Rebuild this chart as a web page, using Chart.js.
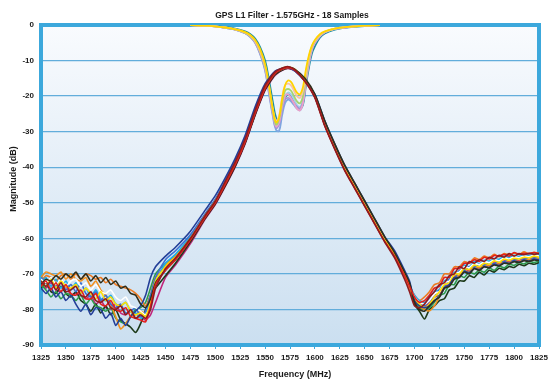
<!DOCTYPE html>
<html>
<head>
<meta charset="utf-8">
<script src="https://cdn.jsdelivr.net/npm/chart.js@4.4.0/dist/chart.umd.min.js"></script>
<style>
  html, body { margin: 0; padding: 0; background: #fff; }
  #wrap { width: 548px; height: 379px; }
</style>
</head>
<body>
<div id="wrap"><canvas id="filterChart" width="548" height="379"></canvas></div>
<script>
// frequency grids (MHz)
const freqLow = [1325, 1330, 1335, 1340, 1345, 1350, 1355, 1360, 1365, 1370, 1375, 1380,
  1385, 1390, 1395, 1400, 1405, 1410, 1415, 1420, 1425, 1430, 1435, 1440];
const freqMid = [1450, 1460, 1475, 1490, 1500, 1510, 1520, 1530, 1540, 1550, 1560, 1570,
  1575, 1580, 1590, 1600, 1610, 1620, 1630, 1640, 1650, 1660, 1670, 1680, 1690, 1695];
const freqHigh = [1700, 1705, 1710, 1715, 1720, 1725, 1730, 1735, 1740, 1745, 1750, 1755,
  1760, 1765, 1770, 1775, 1780, 1785, 1790, 1795, 1800, 1805, 1810, 1815, 1820, 1825];
const freqS21 = freqLow.concat(freqMid, freqHigh);

const freqS11 = [1475, 1490, 1500, 1510, 1520, 1530, 1535, 1540, 1545, 1550, 1554, 1558,
  1561, 1564, 1567, 1570, 1573, 1576, 1579, 1582, 1585, 1588, 1591, 1594, 1597, 1600,
  1605, 1610, 1620, 1630, 1640, 1650, 1665];

// transmission (dB), one row per sample: low stopband | passband | high stopband
const s21Olive = [-73, -71.5, -72, -70.5, -71.5, -70, -71, -69.5, -71.5, -70, -72, -70.5, -72.5, -71, -73, -72, -74, -73.5, -75.5, -76, -78.5, -79.5, -77, -72.5,
  -69, -66, -60.5, -54, -50, -45, -39.5, -33, -25, -18, -13.8, -12.1, -12, -12.5, -15, -19.5, -27, -33.5, -39.5, -44.5, -49.5, -54.5, -59.5, -64, -69.5, -72.5,
  -78, -80, -80.5, -79, -77.5, -76.5, -74, -73.5, -71.5, -71, -69.5, -70, -68.5, -69, -68, -68.3, -67.5, -67.8, -67, -67.2, -66.6, -66.8, -66.3, -66.5, -66.1, -66.3];
const s21DarkRed = [-72, -73.5, -72, -74.5, -72.5, -75, -74.5, -73.5, -76, -76.5, -75, -77.5, -78, -77, -79.5, -80, -79, -81.5, -80, -82.5, -81.5, -82.5, -80, -74,
  -68.5, -65.5, -60, -53.5, -49.5, -44, -38.5, -32, -24, -17, -13.2, -11.8, -11.8, -12.6, -15.8, -20.5, -28.5, -35, -41, -46, -51, -56, -61, -65.5, -71.5, -75,
  -79, -79.5, -78.5, -76.5, -75, -73, -72.5, -70.5, -70, -68, -68.5, -66.5, -67, -66, -66.5, -65.3, -65.8, -64.8, -65.3, -64.3, -65, -64.3, -64.6, -64.2, -64.5, -64.3];
const s21Red = [-73.5, -72, -74.5, -72.5, -75, -73, -75.5, -76, -74.5, -77, -77, -75.5, -78.5, -79, -77.5, -80, -80.5, -79.5, -82, -82.5, -83, -83.5, -79, -73,
  -69, -66, -60.5, -54, -50, -44.8, -39.3, -32.8, -24.8, -17.8, -13.6, -12.1, -12.1, -12.8, -15.8, -20.3, -28.3, -34.8, -40.8, -45.8, -50.8, -55.8, -60.8, -65, -70.5, -73.5,
  -76.5, -78, -77.5, -76, -74, -73.5, -71, -71, -68.5, -68.5, -67, -67, -66, -66.5, -65.3, -65.8, -64.8, -65, -64.5, -65, -64, -64.5, -64.2, -64.3, -64, -64.3];
const s21Navy = [-74, -75.5, -74, -76.5, -75, -77.5, -76, -78.5, -80.5, -78.5, -81.5, -79.5, -80, -82.5, -81, -84.5, -82.5, -84.5, -82, -80.5, -79, -76, -71, -68,
  -65, -62.5, -58, -52, -48, -43, -37.5, -31, -23, -16.5, -13, -12, -12.2, -13, -15.8, -19.5, -27, -33.5, -39.5, -44.5, -49.5, -54.5, -59.5, -63.5, -69, -72,
  -77.5, -79, -79.5, -79, -77.5, -76.5, -74, -73, -71, -71, -69.3, -69.6, -68.5, -68.8, -68, -68.2, -67.3, -67.6, -66.8, -67, -66.4, -66.7, -66.1, -66.4, -65.9, -66.1];
const s21Blue = [-71, -72.5, -71, -73.5, -72, -74.5, -73, -75, -72.5, -75.5, -76.5, -75, -77.5, -76, -78.5, -79.5, -78.5, -81, -80.5, -79.5, -82, -80.5, -76, -71,
  -66, -63.5, -59, -53, -49, -43.8, -38.3, -31.8, -23.8, -17, -13.3, -12, -12.1, -12.8, -15.7, -20.1, -28, -34.5, -40.5, -45.5, -50.5, -55.5, -60.5, -64.5, -70, -73,
  -76.5, -78, -79, -77.5, -76.5, -74.5, -73.5, -71.5, -71.5, -69, -69, -68, -68.2, -67.3, -67.6, -66.8, -67.2, -66.3, -66.6, -65.8, -66.2, -65.6, -65.9, -65.3, -65.6, -65.3];
const s21Cyan = [-72.5, -71, -73.5, -71.5, -74, -72, -74.5, -72.5, -75.5, -74, -76.5, -74.5, -77, -77.5, -76, -78.5, -79, -78, -80.5, -81, -82.5, -81.5, -77, -72.5,
  -67, -64.5, -59.5, -53.3, -49.3, -44.2, -38.7, -32.2, -24.2, -17.3, -13.4, -12, -12, -12.7, -15.6, -20, -28, -34.5, -40.5, -45.5, -50.5, -55.5, -60.5, -64.5, -70.2, -73.3,
  -76, -77.5, -78, -77, -75, -74.5, -72, -71.5, -69.5, -69.5, -67.5, -68, -66.5, -67.2, -66.2, -66.4, -65.7, -65.9, -65, -65.4, -64.8, -65.1, -64.5, -64.8, -64.4, -64.6];
const s21Orange = [-71, -69.5, -70, -70.5, -69.5, -71.5, -70, -71.5, -72, -71, -73.5, -72, -74.5, -76, -78.5, -82, -85.5, -84, -82, -81.5, -80.5, -81, -77, -72,
  -67.5, -65, -59.8, -53.4, -49.4, -44.3, -38.8, -32.3, -24.3, -17.4, -13.5, -12.1, -12.1, -12.7, -15.6, -20.1, -28.1, -34.6, -40.6, -45.6, -50.6, -55.6, -60.6, -64.8, -70.5, -74,
  -77, -79, -80, -80.4, -79, -76.5, -74, -73, -70.5, -70.5, -69, -69.5, -68, -68.5, -67.5, -67.8, -67, -67.3, -66.5, -66.8, -66.2, -66.5, -65.8, -66, -65.6, -65.8];
const s21Amber = [-72, -70.5, -71, -72, -70.5, -70, -71.5, -70, -71.5, -70, -70.5, -71.5, -71, -72.5, -71.5, -73, -73.5, -74, -74.5, -75.5, -77, -79, -76, -71,
  -68, -65.5, -60, -53.6, -49.6, -44.5, -39, -32.5, -24.5, -17.5, -13.5, -12, -12, -12.6, -15.5, -20, -28, -34.5, -40.5, -45.5, -50.5, -55.5, -60.5, -64.6, -70.3, -73.5,
  -76, -77.5, -76.5, -75, -73, -72.5, -70, -70, -68, -68, -66.5, -67, -65.5, -66, -65, -65.5, -64.5, -65.2, -64.3, -64.6, -64.2, -64.5, -63.8, -64.4, -63.9, -64.2];
const s21Yellow = [-72, -73.5, -71.5, -74, -72, -73.5, -74, -73, -75.5, -74, -75.5, -77, -75, -77.5, -76.5, -78.5, -79, -78, -80.5, -81.5, -81, -82, -78, -72,
  -68, -65.3, -60, -53.5, -49.5, -44.4, -38.9, -32.4, -24.4, -17.4, -13.4, -11.9, -11.9, -12.5, -15.4, -19.9, -27.9, -34.4, -40.4, -45.4, -50.4, -55.4, -60.4, -64.4, -70, -73,
  -77, -78.5, -79.5, -78.5, -76.5, -75, -73, -72.5, -70, -70, -68.5, -68.8, -67.5, -68, -67, -67.3, -66.3, -66.8, -65.8, -66.2, -65.6, -65.8, -65.3, -65.5, -65, -65.3];
const s21Green = [-73, -74.5, -76.5, -75, -77, -75.5, -76, -77.5, -76, -78.5, -77, -79, -79.5, -80.5, -79.5, -82.5, -83.5, -84, -82, -80, -79.5, -78, -74, -70,
  -67, -64.8, -59.8, -53.4, -49.4, -44.3, -38.8, -32.3, -24.3, -17.4, -13.5, -12.1, -12.1, -12.7, -15.6, -20.1, -28.1, -34.6, -40.6, -45.6, -50.6, -55.6, -60.6, -64.7, -70.3, -73.6,
  -77.5, -79.5, -80, -79.5, -78, -76, -75.5, -73, -73, -70.5, -71, -69.5, -70, -69, -69.5, -68.3, -69, -67.8, -68.3, -67.3, -67.6, -66.8, -67.2, -66.5, -66.8, -66.4];
const s21DarkGreen = [-74, -72.5, -75, -75.5, -73.5, -75.5, -76.5, -75, -77.5, -78.5, -80.5, -78.5, -81, -79, -81.5, -80, -83, -84, -85, -86.5, -84, -80, -76, -74,
  -70.5, -67, -61, -54.3, -50.3, -45.2, -39.7, -33.2, -25.2, -18.2, -14, -12.3, -12.2, -12.7, -15.3, -19.7, -27.6, -34, -40, -45, -50, -55, -60, -64.2, -69.8, -73,
  -78.5, -80.5, -82.7, -80, -79, -77.5, -77, -74.5, -74, -72, -72, -70.5, -71, -69.5, -70.3, -69, -69.5, -68.4, -68.8, -67.9, -68.2, -67.3, -67.7, -67, -67.3, -66.8];
const s21White = [-71.5, -72.5, -71, -73, -71.5, -73.5, -72, -71.5, -73.5, -72.5, -74.5, -73, -75, -75.5, -74.5, -76.5, -77.5, -76.5, -79, -79.5, -80.5, -81.5, -79, -73.5,
  -68.5, -65.8, -60.3, -53.8, -49.8, -44.6, -39.1, -32.6, -24.6, -17.6, -13.6, -12.1, -12, -12.6, -15.5, -20, -28, -34.5, -40.5, -45.5, -50.5, -55.5, -60.5, -64.5, -70.2, -73.3,
  -76.5, -78, -78.5, -77.5, -75.5, -75, -72.5, -72, -70, -69.5, -68, -68.3, -67, -67.4, -66.5, -66.8, -66, -66.3, -65.5, -65.8, -65.2, -65.5, -65, -65.2, -64.8, -65];
const s21Magenta = [-72.5, -74, -72.5, -74.5, -75, -73.5, -76, -75.5, -76, -77, -76, -78.5, -77.5, -79.5, -80, -78.5, -81, -81.5, -80.5, -82.5, -82, -83, -81.5, -78,
  -71, -67.5, -61.5, -54.5, -50.5, -45.4, -39.9, -33.4, -25.4, -18.4, -14.2, -12.4, -12.3, -12.8, -15.6, -20.2, -28.2, -34.7, -40.7, -45.7, -50.7, -55.7, -60.7, -64.9, -70.6, -74,
  -77.5, -79, -79.5, -78, -76.5, -76, -73.5, -73, -70.5, -70.5, -68.5, -69.2, -67.8, -68.3, -67.2, -67.7, -66.7, -67.2, -66.3, -66.6, -66, -66.3, -65.6, -66, -65.4, -65.7];

// return loss (dB)
const s11Yellow = [0, -0.2, -0.4, -0.7, -1.2, -2.0, -2.8, -4.2, -6.8, -11, -17, -24, -27.4, -26, -21, -17, -15.6, -16, -17.5, -19, -19.5, -17.5, -12.5, -8.5, -5.8, -4.2, -2.6, -1.8, -1, -0.6, -0.4, -0.2, 0];
const s11LightBlue = [0, -0.2, -0.4, -0.8, -1.3, -2.3, -3.2, -4.8, -7.8, -12, -18, -24.5, -27.5, -27, -23, -20, -19, -19.5, -21, -22.5, -23, -21, -15, -10, -6.5, -4.8, -3, -2, -1.1, -0.7, -0.4, -0.2, 0];
const s11Teal = [0, -0.1, -0.3, -0.6, -1.0, -1.8, -2.5, -3.8, -6.2, -10, -15.5, -22, -26, -27, -24, -20.5, -19.5, -20, -21.5, -23, -23.5, -22.5, -17, -12, -8, -6, -3.6, -2.4, -1.3, -0.8, -0.5, -0.3, 0];
const s11Peach = [0, -0.2, -0.4, -0.7, -1.2, -2.1, -3, -4.5, -7.3, -11.5, -17.5, -24, -27, -25.5, -20.5, -17, -16.5, -17, -18.5, -20, -20.5, -18.5, -13.5, -9, -6, -4.4, -2.8, -1.9, -1, -0.6, -0.4, -0.2, 0];
const s11Lime = [0, -0.2, -0.4, -0.7, -1.2, -2.2, -3.1, -4.6, -7.5, -11.8, -18, -24.5, -28, -26.5, -22, -18.5, -18, -18.5, -20, -21.5, -22, -20, -14.5, -9.5, -6.2, -4.6, -2.9, -1.9, -1, -0.6, -0.4, -0.2, 0];
const s11Purple = [0, -0.2, -0.4, -0.8, -1.3, -2.3, -3.3, -4.9, -8, -12.5, -19, -25.5, -29, -28, -24, -21, -20.5, -21, -22, -23, -23.5, -21.5, -15.5, -10.5, -6.8, -5, -3.1, -2, -1.1, -0.7, -0.4, -0.2, 0];
const s11Blue = [0, -0.2, -0.4, -0.8, -1.3, -2.3, -3.3, -5, -8.2, -12.8, -19.5, -26, -29.5, -29.8, -25.5, -22, -21, -21.5, -22.5, -23.5, -24, -22, -16, -11, -7, -5.1, -3.2, -2.1, -1.1, -0.7, -0.4, -0.2, 0];
const s11Pink = [0, -0.2, -0.4, -0.7, -1.2, -2.2, -3.1, -4.7, -7.6, -12, -18.5, -25, -28.5, -27.5, -23, -20, -19.5, -20.5, -22, -23.5, -24, -22, -16, -10.8, -6.9, -5, -3.1, -2, -1.1, -0.7, -0.4, -0.2, 0];

const xTicks = [1325, 1825, 25];
const yTicks = [-90, 0, 10];

const s21Sets = [
  [s21DarkRed, "#8e1b1f"], [s21Red, "#e3201c"], [s21Olive, "#2f2f1c"], [s21Navy, "#233f98"],
  [s21Yellow, "#ffe100"], [s21White, "#ffffff"], [s21Blue, "#3a6fd2"], [s21Cyan, "#1eaee8"],
  [s21Orange, "#f3901d"], [s21Amber, "#ee7a22"], [s21Green, "#2e9b4c"], [s21DarkGreen, "#1d3a1a"],
  [s21Magenta, "#c1267c"],
];
const s11Sets = [
  [s11Yellow, "#ffd400"], [s11Peach, "#f8c3a2"], [s11Lime, "#a6d470"], [s11Pink, "#eba0c8"],
  [s11Purple, "#a592d4"], [s11Blue, "#7ea6e0"], [s11LightBlue, "#a3d0ea"], [s11Teal, "#1b8e9e"],
];

const toPoints = (xs, ys) => ys.map((y, i) => ({ x: xs[i], y }));

const datasets = [
  ...s21Sets.map(([vals, color]) => ({
    data: toPoints(freqS21, vals), borderColor: color, borderWidth: 1.6, tension: 0.2,
  })),
  ...s11Sets.map(([vals, color]) => ({
    data: toPoints(freqS11, vals), borderColor: color, borderWidth: 1.8, tension: 0.4,
  })),
];

const font = { family: '"Liberation Sans", Arial, sans-serif', weight: "bold", size: 8 };
const blue = "#3ca8dc";

const frame = {
  id: "frame",
  beforeDraw(chart) {
    const { ctx, chartArea: a } = chart;
    const g = ctx.createLinearGradient(0, a.top, 0, a.bottom);
    g.addColorStop(0, "#f9fbfe");
    g.addColorStop(1, "#cbdff0");
    ctx.save();
    ctx.fillStyle = g;
    ctx.fillRect(a.left, a.top, a.right - a.left, a.bottom - a.top);
    ctx.restore();
  },
  beforeDatasetsDraw(chart) {
    const { ctx, chartArea: a } = chart;
    ctx.save();
    ctx.strokeStyle = blue;
    ctx.lineWidth = 4;
    ctx.strokeRect(a.left, a.top, a.right - a.left, a.bottom - a.top);
    ctx.restore();
  },
  afterDraw(chart) {
    const { ctx, chartArea: a } = chart;
    const mid = (a.left + a.right) / 2;
    ctx.save();
    ctx.fillStyle = "#1a1a1a";
    ctx.textAlign = "center";
    ctx.font = 'bold 8.5px "Liberation Sans", Arial, sans-serif';
    ctx.fillText("GPS L1 Filter - 1.575GHz - 18 Samples", mid + 2, 18);
    ctx.font = 'bold 9px "Liberation Sans", Arial, sans-serif';
    ctx.fillText("Frequency (MHz)", mid + 5, 377);
    ctx.translate(16, 179);
    ctx.rotate(-Math.PI / 2);
    ctx.fillText("Magnitude (dB)", 0, 0);
    ctx.restore();
  },
};

new Chart(document.getElementById("filterChart"), {
  type: "line",
  data: { datasets },
  options: {
    responsive: false,
    animation: false,
    events: [],
    layout: { padding: { top: 25, right: 9, left: 0, bottom: 0 } },
    elements: { point: { radius: 0 } },
    scales: {
      x: {
        type: "linear",
        min: xTicks[0],
        max: xTicks[1],
        afterFit: (scale) => {
          scale.height = 34;
          scale.paddingLeft = 0;
          scale.paddingRight = 0;
        },
        border: { display: false },
        grid: { drawOnChartArea: false, drawTicks: true, tickLength: 4, color: blue },
        ticks: {
          stepSize: xTicks[2], autoSkip: false, maxRotation: 0, padding: 4,
          color: "#1a1a1a", font, callback: (v) => String(v),
        },
      },
      y: {
        min: yTicks[0],
        max: yTicks[1],
        afterFit: (scale) => { scale.width = 41; },
        border: { display: false },
        grid: { drawTicks: false, color: "#62addb", lineWidth: 1.3 },
        ticks: { stepSize: yTicks[2], padding: 7, color: "#1a1a1a", font },
      },
    },
    plugins: {
      legend: { display: false },
      tooltip: { enabled: false },
    },
  },
  plugins: [frame],
});
</script>
</body>
</html>
